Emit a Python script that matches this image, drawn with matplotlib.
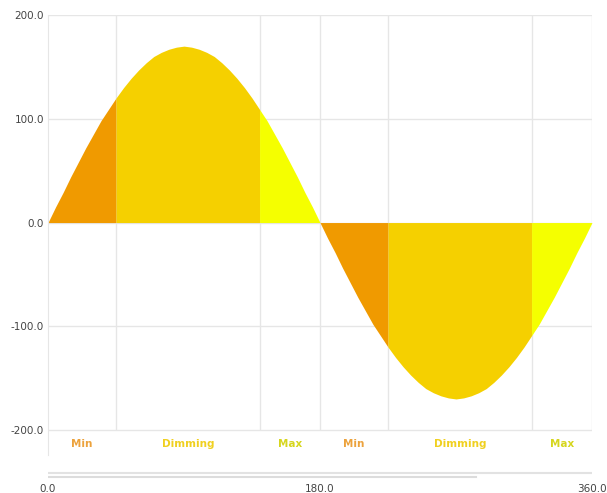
import matplotlib.pyplot as plt
import numpy as np


# =====================================
# DATA
# =====================================
angle = list(range(0, 365, 5))

value = [
    0, 15, 29, 44, 58, 72, 85, 98, 109, 120,
    130, 139, 147, 154, 160, 164, 167, 169, 170,
    169, 167, 164, 160, 154, 147, 139, 130, 120, 109,
    98, 85, 72, 58, 44, 29, 15, 0,
    -15, -29, -44, -58, -72, -85, -98, -109, -120,
    -130, -139, -147, -154, -160, -164, -167, -169, -170,
    -169, -167, -164, -160, -154, -147, -139, -130, -120, -109,
    -98, -85, -72, -58, -44, -29, -15, 0
]

zone_start = [0, 45, 140, 180, 225, 320]
zone_end = [45, 140, 180, 225, 320, 360]
zone_label = ["Min", "Dimming", "Max", "Min", "Dimming", "Max"]

zone_fill = {
    "Min": "#f09a00",
    "Dimming": "#f5d000",
    "Max": "#f5ff00",
}

zone_text = {
    "Min": "#eca23c",
    "Dimming": "#f0d020",
    "Max": "#d6d61e",
}

y_ticks = [200, 100, 0, -100, -200]
range_ticks = [0, 180, 360]


# =====================================
# MAIN CHART
# =====================================
fig = plt.figure(figsize=(6.07, 4.93), dpi=100)

ax = fig.add_axes([48 / 607, 1 - 455 / 493, 544 / 607, 440 / 493])

x = np.array(angle)
y = np.array(value)

for start, end, label in zip(zone_start, zone_end, zone_label):
    mask = (x >= start) & (x <= end)
    ax.fill_between(
        x, y, 0,
        where=mask,
        color=zone_fill[label],
        linewidth=0,
        zorder=2
    )

ax.set_xlim(0, 360)
ax.set_ylim(-224, 200)

# grid
grid_color = "#e6e6e6"
for t in y_ticks:
    ax.axhline(t, color=grid_color, lw=1, zorder=1)
ax.vlines(zone_end, -200, 200, color=grid_color, lw=1, zorder=1)

ax.set_yticks(y_ticks)
ax.set_yticklabels([f"{t:.1f}" for t in y_ticks])
ax.set_xticks([])

ax.tick_params(
    axis="y",
    length=0,
    pad=3,
    labelsize=7.5,
    labelcolor="#444444"
)

for side in ["top", "right", "bottom"]:
    ax.spines[side].set_visible(False)
ax.spines["left"].set_color(grid_color)

# zone labels
for start, end, label in zip(zone_start, zone_end, zone_label):
    ax.text(
        (start + end) / 2, -213,
        label,
        ha="center",
        va="center",
        fontsize=7.5,
        fontweight="bold",
        color=zone_text[label]
    )


# =====================================
# RANGE BAR
# =====================================
ax2 = fig.add_axes([48 / 607, 1 - 480 / 493, 544 / 607, 10 / 493])

ax2.set_xlim(0, 360)
ax2.set_ylim(0, 1)

ax2.plot([0, 360], [0.75, 0.75], color="#e2e2e2", lw=1.5)
ax2.plot([0, 283], [0.3, 0.3], color="#dcdcdc", lw=1.5)

ax2.set_yticks([])
ax2.set_xticks(range_ticks)
ax2.set_xticklabels([f"{t:.1f}" for t in range_ticks])

ax2.tick_params(
    axis="x",
    length=0,
    pad=3,
    labelsize=7.5,
    labelcolor="#444444"
)

for side in ax2.spines:
    ax2.spines[side].set_visible(False)

fig.savefig("out.png", dpi=100)
